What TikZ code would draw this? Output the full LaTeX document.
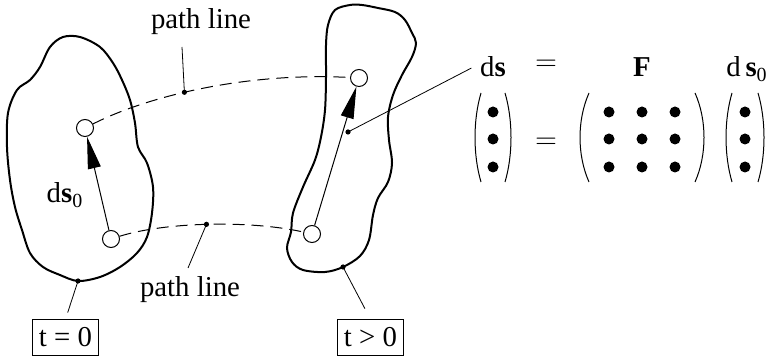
\documentclass[tikz,border=0pt]{standalone}
\usepackage{fontspec}
\setmainfont{Liberation Serif}
\usetikzlibrary{arrows.meta}

\begin{document}
\begin{tikzpicture}[
  x=0.5pt, y=-0.5pt,
  font=\fontsize{14.4}{17}\selectfont,
  outline/.style={line width=1pt},
  particle/.style={circle, draw, fill=white, line width=0.5pt, minimum size=8.5pt, inner sep=0pt},
  pathline/.style={line width=0.5pt, dash pattern=on 6pt off 3.5pt},
  vec/.style={-{Triangle[length=16pt, width=6.5pt]}, line width=0.5pt},
  leader/.style={line width=0.4pt},
  spot/.style={circle, fill, inner sep=0pt, minimum size=2.6pt},
  entry/.style={circle, fill, inner sep=0pt, minimum size=5.5pt},
  brack/.style={line width=0.5pt},
  tbox/.style={draw, line width=0.5pt, inner xsep=3pt, inner ysep=4pt}
]
\useasboundingbox (0,0) rectangle (769,356);

% body at t = 0
\draw[outline] plot[smooth cycle, tension=0.55] coordinates {
  (80,37) (100,47) (113,63) (122,80) (130,100) (135,123) (138,147)
  (147,163) (153,187) (152,213) (147,237) (137,253) (120,267) (100,277)
  (78,281) (60,275) (43,267) (30,253) (22,230) (15,207) (10,180)
  (7,147) (8,113) (17,90) (30,80) (40,67) (50,47) (63,37)};

% body at t > 0
\draw[outline] plot[smooth cycle, tension=0.55] coordinates {
  (350,5) (362,5) (378,8) (395,12) (405,20) (412,33) (416,43) (412,57)
  (402,75) (393,95) (388,117) (389,140) (392,163) (388,182) (378,198)
  (373,215) (369,240) (360,256) (343,267) (325,272) (303,270) (292,262)
  (287,248) (291,232) (293,213) (303,187) (315,160) (321,137) (325,110)
  (326,77) (326,45) (328,25) (335,10)};

% particles
\node[particle] (p0a) at (85,128) {};
\node[particle] (p0b) at (111,239) {};
\node[particle] (p1a) at (359,78) {};
\node[particle] (p1b) at (312,234) {};

% path lines
\draw[pathline] (p0a) .. controls (150,95) and (250,72) .. (p1a)
  coordinate[pos=0.42] (up);
\draw[pathline] (p0b) .. controls (165,222) and (250,220) .. (p1b)
  coordinate[pos=0.49] (lo);

% line elements
\draw[vec] (p0b) -- (p0a);
\draw[vec] (p1b) -- (p1a);
\node (ds0lbl) at (65,195) {d\textbf{s}\textsubscript{0}};

% labels
\node (uplbl) at (201,22) {path line};
\node (lolbl) at (190,290) {path line};
\coordinate (upend) at (182,47);
\coordinate (loend) at (188,268);
\node[spot] at (up) {};
\node[spot] at (lo) {};
\draw[leader] (up) -- (upend);
\draw[leader] (lo) -- (loend);

\coordinate (b0) at (78,281);
\coordinate (b1) at (343,267);
\node[spot] at (b0) {};
\node[spot] at (b1) {};
\node[tbox] (t0) at (65.5,337.5) {t = 0};
\node[tbox] (t1) at (370.5,337.5) {t > 0};
\draw[leader, shorten >=3.5pt] (b0) -- (t0.north);
\draw[leader, shorten >=6pt] (b1) -- (t1.north);

% deformation gradient
\node[anchor=base] (ds) at (493,77) {d\textbf{s}};
\node (eqa) at (546,65) {$=$};
\node[anchor=base] (F) at (642,77) {\textbf{F}};
\node[anchor=base] (dsz) at (747,77) {d\,\textbf{s}\textsubscript{0}};
\coordinate (dsdot) at (348,132);
\node[spot] at (dsdot) {};
\draw[leader, shorten >=1pt] (dsdot) -- (ds.west);
\node (eqb) at (546,143) {$=$};

\foreach \y in {112,139,167} {
  \node[entry] at (493,\y) {};
  \node[entry] at (745,\y) {};
  \foreach \x in {609,642,675}
    \node[entry] at (\x,\y) {};
}
\foreach \cx/\ti/\co in {493/12/20, 642/53/65, 745/13/21} {
  \draw[brack] (\cx-\ti,93) .. controls (\cx-\co,120) and (\cx-\co,155) .. (\cx-\ti,182);
  \draw[brack] (\cx+\ti,93) .. controls (\cx+\co,120) and (\cx+\co,155) .. (\cx+\ti,182);
}
\end{tikzpicture}
\end{document}
